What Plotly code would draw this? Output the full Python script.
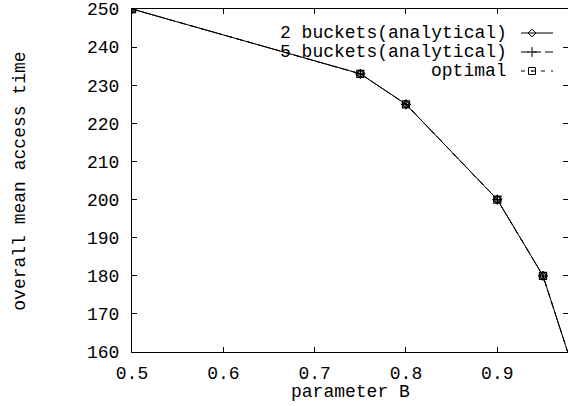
import plotly.graph_objects as go

# Parameter B sweep and mean access times
param_b = [0.5, 0.75, 0.8, 0.9, 0.95, 1.0]
two_buckets = [250, 233, 225, 200, 180, 143]
five_buckets = [250, 233, 225, 200, 180, 143]
optimal = [250, 233, 225, 200, 180, 143]

x_ticks = [0.5, 0.6, 0.7, 0.8, 0.9]
y_ticks = [160, 170, 180, 190, 200, 210, 220, 230, 240, 250]

series_names = ["2 buckets(analytical)", "5 buckets(analytical)", "optimal"]

FONT = "Liberation Mono, Courier New, monospace"
W, H = 568, 406
L, R, T, B = 132, 0, 9, 54

fig = go.Figure()

line_styles = [
    dict(dash="solid", symbol="diamond-open", size=6),
    dict(dash="8px,4px", symbol="cross-thin-open", size=7),
    dict(dash="4px,6px", symbol="square-open-dot", size=7),
]
series_values = [two_buckets, five_buckets, optimal]

# draw dashed series first so the solid one sits on top
for name, vals, st in reversed(list(zip(series_names, series_values, line_styles))):
    fig.add_trace(go.Scatter(
        x=param_b, y=vals, mode="lines+markers", name=name,
        line=dict(color="black", width=1, dash=st["dash"]),
        marker=dict(symbol=st["symbol"], size=st["size"], color="black",
                    line=dict(color="black", width=1.3)),
        showlegend=False, cliponaxis=True,
    ))

# key entries: text on the left, line sample with a point on the right
key_rows = [33, 52, 71]
for (name, st), ky in zip(zip(series_names, line_styles), key_rows):
    fig.add_trace(go.Scatter(
        x=[521, 553], y=[ky, ky], mode="lines", xaxis="x2", yaxis="y2",
        line=dict(color="black", width=1, dash=st["dash"]),
        showlegend=False, hoverinfo="skip",
    ))
    fig.add_trace(go.Scatter(
        x=[532], y=[ky], mode="markers", xaxis="x2", yaxis="y2",
        marker=dict(symbol=st["symbol"], size=st["size"], color="black",
                    line=dict(color="black", width=1)),
        showlegend=False, hoverinfo="skip",
    ))
    fig.add_annotation(
        x=509, y=ky, xref="x2", yref="y2", text=name, showarrow=False,
        xanchor="right", yanchor="middle",
        font=dict(family=FONT, size=18, color="black"),
    )

axis_common = dict(
    showgrid=False, zeroline=False, showline=True, linecolor="black",
    linewidth=1, mirror="allticks", ticks="inside", ticklen=5,
    tickcolor="black", tickwidth=1,
    tickfont=dict(family=FONT, size=18, color="black"),
)

fig.update_layout(
    width=W, height=H,
    margin=dict(l=L, r=R, t=T, b=B, pad=0),
    paper_bgcolor="white", plot_bgcolor="white",
    xaxis=dict(range=[0.5, 0.9774], tickvals=x_ticks,
               ticktext=[f"{v:.1f}" for v in x_ticks],
               ticklabelstandoff=4, **axis_common),
    yaxis=dict(range=[160, 250], tickvals=y_ticks,
               ticktext=[str(v) for v in y_ticks],
               ticklabelstandoff=8, **axis_common),
    xaxis2=dict(overlaying="x", range=[L, W - R], visible=False),
    yaxis2=dict(overlaying="y", range=[H - B, T], visible=False),
    showlegend=False,
)

fig.add_annotation(
    x=0.5, y=(H - B - 391.7) / (H - B - T), xref="paper", yref="paper",
    text="parameter B", showarrow=False, xanchor="center", yanchor="middle",
    font=dict(family=FONT, size=18, color="black"),
)
fig.add_annotation(
    x=(20 - L) / (W - L - R), y=(H - B - 181.7) / (H - B - T),
    xref="paper", yref="paper", text="overall mean access time",
    showarrow=False, textangle=-90, xanchor="center", yanchor="middle",
    font=dict(family=FONT, size=18, color="black"),
)

fig.write_html("out.html")
